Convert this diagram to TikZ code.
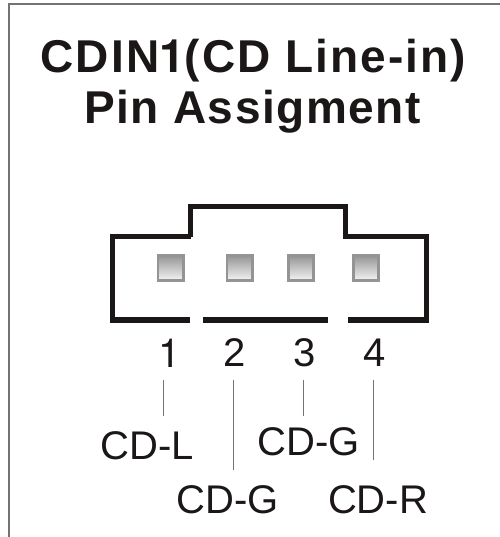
\documentclass[tikz,border=0pt]{standalone}
\usepackage{fontspec}
\setmainfont{Liberation Sans}
\newfontfamily\ttlfont[LetterSpace=4.5]{Liberation Sans}
\newfontfamily\ttlfontb[LetterSpace=3.3]{Liberation Sans}
\newfontfamily\oneface[LetterSpace=4.5]{TeX Gyre Heros}
\newfontfamily\onelab{TeX Gyre Heros}
\definecolor{frameg}{gray}{0.45}
\definecolor{wallk}{HTML}{1A1716}
\tikzset{
  wall/.style={draw=wallk,line width=3.8pt,line cap=butt,line join=miter},
  wallb/.style={draw=wallk,line width=4.2pt,line cap=butt,line join=miter},
  pinbox/.style={draw=black!42,line width=2pt,minimum size=19pt,inner sep=0pt,shape=rectangle,top color=black!42,bottom color=black!4},
  lab/.style={text=wallk,font=\fontsize{30pt}{30pt}\selectfont,inner sep=0pt},
  ttl/.style={text=wallk,font=\ttlfont\fontsize{34.5pt}{34.5pt}\selectfont\bfseries,inner sep=0pt,anchor=base},
  ttlb/.style={text=wallk,font=\ttlfontb\fontsize{34.5pt}{34.5pt}\selectfont\bfseries,inner sep=0pt,anchor=base},
  lead/.style={draw=black!55,line width=0.7pt}
}
\begin{document}
\begin{tikzpicture}[x=0.75pt,y=-0.75pt]
\useasboundingbox (0,0) rectangle (500,537);
\fill[white] (0,0) rectangle (500,537);
\coordinate (f1) at (9,537);
\coordinate (f2) at (9,4);
\coordinate (f3) at (500,4);
\draw[frameg,line width=1.1pt] (f1) -- (f2) -- (f3);
\node[ttl] (t1) at (253.5,72) {CDIN{\oneface\bfseries 1}(CD Line-in)};
\node[ttlb] (t2) at (252.5,123) {Pin Assigment};
\draw[wall] (190.5,236.5) -- (190.5,206.5) -- (345.5,206.5) -- (345.5,236.5) -- (426.5,236.5) -- (426.5,320);
\draw[wall] (190.5,236.5) -- (112.5,236.5) -- (112.5,320);
\draw[wallb] (110,320) -- (190.3,320);
\draw[wallb] (203,320) -- (328,320);
\draw[wallb] (348,320) -- (429,320);
\node[pinbox] (p1) at (170.5,268) {};
\node[pinbox] (p2) at (239.5,268) {};
\node[pinbox] (p3) at (301,268) {};
\node[pinbox] (p4) at (366,268) {};
\node[lab] (n1) at (170,353) {\onelab 1};
\node[lab] (n2) at (235,353) {2};
\node[lab] (n3) at (305,353) {3};
\node[lab] (n4) at (375,353) {4};
\node[lab] (l1) at (147.5,446) {CD-L};
\node[lab] (l2) at (227.5,500) {CD-G};
\node[lab] (l3) at (308.5,441.5) {CD-G};
\node[lab] (l4) at (378,500) {CD-R};
\coordinate (a1) at (163,380); \coordinate (b1) at (163,416);
\coordinate (a2) at (233,380); \coordinate (b2) at (233,470);
\coordinate (a3) at (303,380); \coordinate (b3) at (303,416);
\coordinate (a4) at (373,380); \coordinate (b4) at (373,460);
\draw[lead] (a1) -- (b1);
\draw[lead] (a2) -- (b2);
\draw[lead] (a3) -- (b3);
\draw[lead] (a4) -- (b4);
\end{tikzpicture}
\end{document}
